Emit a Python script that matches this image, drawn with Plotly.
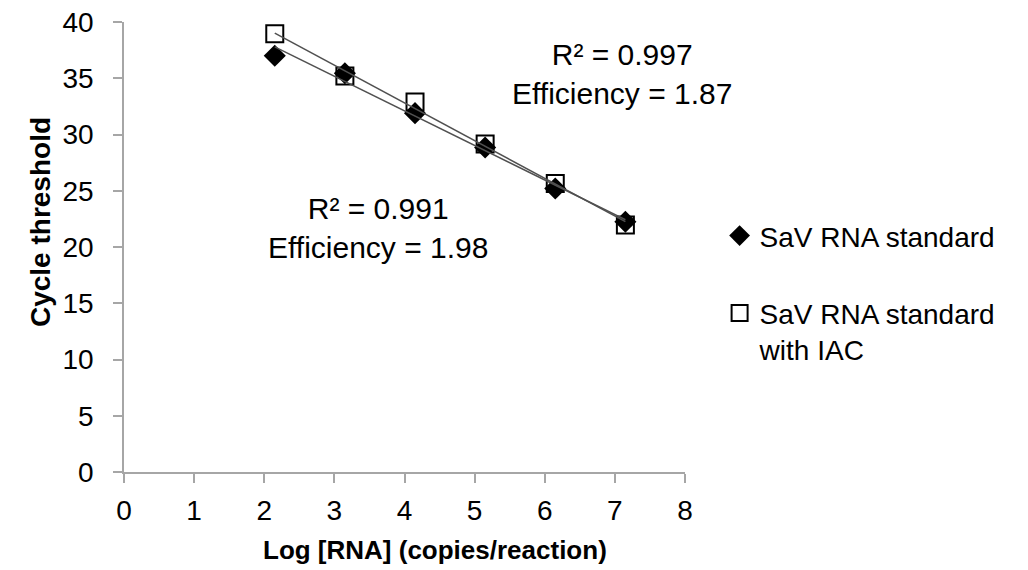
import numpy as np
import plotly.graph_objects as go

# ---- data ----
log_rna = [2.15, 3.15, 4.15, 5.15, 6.15, 7.15]
ct_std = [37.0, 35.45, 31.9, 28.85, 25.2, 22.25]
ct_iac = [38.95, 35.2, 32.9, 29.15, 25.65, 21.95]
name_std = "SaV RNA standard"
name_iac = "SaV RNA standard<br>with IAC"
label_iac = "R² = 0.997<br>Efficiency = 1.87"
label_std = "R² = 0.991<br>Efficiency = 1.98"
x_ticks = [0, 1, 2, 3, 4, 5, 6, 7, 8]
y_ticks = [0, 5, 10, 15, 20, 25, 30, 35, 40]

FONT = "Arial, Liberation Sans, sans-serif"
AXIS_GRAY = "#a6a6a6"
LINE_GRAY = "#505050"

fig = go.Figure()

# markers (squares under diamonds)
fig.add_trace(go.Scatter(
    x=log_rna, y=ct_iac, mode="markers", name=name_iac,
    legendgroup="iac", legendrank=2,
    marker=dict(symbol="square-open", size=17, color="black",
                line=dict(width=2, color="black")),
))
fig.add_trace(go.Scatter(
    x=log_rna, y=ct_std, mode="markers", name=name_std,
    legendgroup="std", legendrank=1,
    marker=dict(symbol="diamond", size=17, color="black"),
))

# linear trendlines
xs = np.array([min(log_rna), max(log_rna)])
for ys in (ct_iac, ct_std):
    m, b = np.polyfit(log_rna, ys, 1)
    fig.add_trace(go.Scatter(
        x=xs, y=m * xs + b, mode="lines", showlegend=False,
        line=dict(color=LINE_GRAY, width=1.5), hoverinfo="skip",
    ))

fig.add_annotation(x=7.1, y=35.4, text=label_iac, showarrow=False,
                   font=dict(family=FONT, size=30, color="black"),
                   xanchor="center", yanchor="middle", align="center")
fig.add_annotation(x=3.62, y=21.7, text=label_std, showarrow=False,
                   font=dict(family=FONT, size=30, color="black"),
                   xanchor="center", yanchor="middle", align="center")

# axis titles as positioned text
fig.add_annotation(xref="paper", yref="paper", x=(435 - 124) / 561, y=-(550 - 472.3) / 450.6,
                   text="<b>Log [RNA] (copies/reaction)</b>", showarrow=False,
                   font=dict(family=FONT, size=26, color="black"),
                   xanchor="center", yanchor="middle")
fig.add_annotation(xref="paper", yref="paper", x=-(124 - 40) / 561, y=(472.3 - 222) / 450.6,
                   text="<b>Cycle threshold</b>", showarrow=False, textangle=-90,
                   font=dict(family=FONT, size=28, color="black"),
                   xanchor="center", yanchor="middle")

fig.update_layout(
    width=1028, height=570,
    margin=dict(l=124, r=343, t=22, b=98, autoexpand=False),
    paper_bgcolor="white", plot_bgcolor="white",
    font=dict(family=FONT, size=28, color="black"),
    showlegend=True,
    legend=dict(
        xref="container", yref="container",
        x=0.7, y=0.63, xanchor="left", yanchor="top",
        font=dict(family=FONT, size=28, color="black"),
        valign="top", tracegroupgap=38, traceorder="grouped",
        bgcolor="rgba(0,0,0,0)",
    ),
)
fig.update_xaxes(
    range=[0, 8], tickvals=x_ticks, ticktext=[str(v) for v in x_ticks],
    showgrid=False, zeroline=False, showline=True, linecolor=AXIS_GRAY, linewidth=1.5,
    ticks="outside", ticklen=9, tickcolor=AXIS_GRAY, tickwidth=1.5,
    tickfont=dict(family=FONT, size=28, color="black"), ticklabelstandoff=4,
)
fig.update_yaxes(
    range=[0, 40], tickvals=y_ticks, ticktext=[str(v) for v in y_ticks],
    showgrid=False, zeroline=False, showline=True, linecolor=AXIS_GRAY, linewidth=1.5,
    ticks="outside", ticklen=9, tickcolor=AXIS_GRAY, tickwidth=1.5,
    tickfont=dict(family=FONT, size=28, color="black"), ticklabelstandoff=14,
)

fig.write_html(
    "out.html",
    config={"displayModeBar": False},
    post_script="document.body.style.margin='0';document.body.style.overflow='hidden';",
)
